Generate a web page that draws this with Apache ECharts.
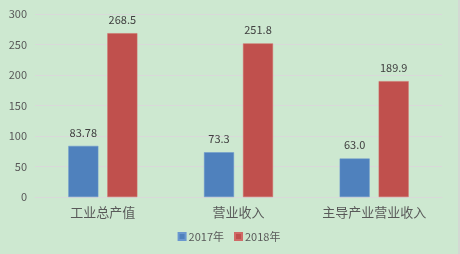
<!DOCTYPE html>
<html><head><meta charset="utf-8">
<script src="https://cdn.jsdelivr.net/npm/echarts@6/dist/echarts.min.js"></script>
<style>html,body{margin:0;padding:0;background:#cde8d0;}#c{width:460px;height:254px;box-sizing:border-box;border-right:2px solid #d4d8d4;}</style>
</head><body><div id="c"></div>
<script>
const categories = ['工业总产值', '营业收入', '主导产业营业收入'];
const values2017 = [83.78, 73.3, 63.0];
const values2018 = [268.5, 251.8, 189.9];
const labels2017 = ['83.78', '73.3', '63.0'];
const labels2018 = ['268.5', '251.8', '189.9'];
const yTicks = [0, 50, 100, 150, 200, 250, 300];

const chart = echarts.init(document.getElementById('c'), null, {renderer: 'canvas'});
const font = '"Microsoft YaHei","Noto Sans CJK SC",sans-serif';
chart.setOption({
  backgroundColor: '#cde8d0',
  animation: false,
  textStyle: {fontFamily: font},
  grid: {left: 35, right: 16, top: 14, bottom: 57, containLabel: false},
  legend: {
    bottom: 7, left: 'center', itemWidth: 7, itemHeight: 7, itemGap: 10,
    icon: 'rect',
    textStyle: {color: '#595959', fontSize: 11, fontFamily: font, padding: [0,0,0,-2]},
    data: ['2017年', '2018年']
  },
  xAxis: {
    type: 'category', data: categories,
    axisLine: {show: true, lineStyle: {color: '#d9d9d9'}},
    axisTick: {show: false},
    axisLabel: {color: '#595959', fontSize: 13, margin: 9, fontFamily: font}
  },
  yAxis: {
    type: 'value', min: yTicks[0], max: yTicks[yTicks.length-1], interval: 50,
    axisLine: {show: false}, axisTick: {show: false},
    axisLabel: {color: '#595959', fontSize: 11, margin: 8, fontFamily: font},
    splitLine: {lineStyle: {color: '#d9d9d9', width: 1}}
  },
  series: [
    {name: '2017年', type: 'bar', data: values2017, barWidth: 30, barGap: '30%',
     itemStyle: {color: '#4f81bd', borderColor: '#6a97cf', borderWidth: 0.5},
     label: {show: true, position: 'top', distance: 8, color: '#404040', fontSize: 11, fontFamily: font,
       formatter: p => labels2017[p.dataIndex]}},
    {name: '2018年', type: 'bar', data: values2018, barWidth: 30,
     itemStyle: {color: '#c0504d', borderColor: '#d06a67', borderWidth: 0.5},
     label: {show: true, position: 'top', distance: 8, color: '#404040', fontSize: 11, fontFamily: font,
       formatter: p => labels2018[p.dataIndex]}}
  ]
});
</script></body></html>
